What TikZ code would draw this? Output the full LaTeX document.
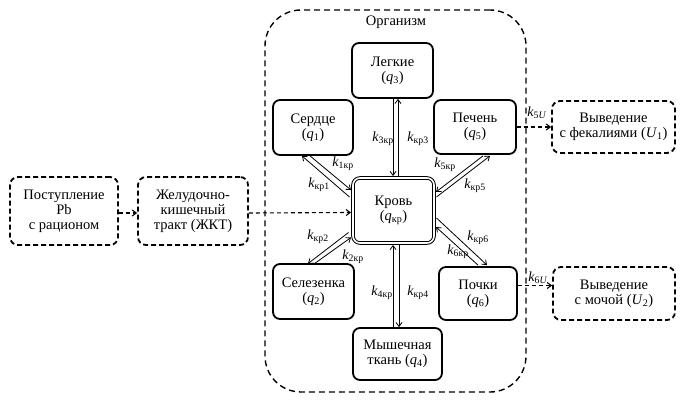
\documentclass[tikz,border=0pt]{standalone}
\usepackage{fontspec}
\setmainfont{Liberation Serif}
\usetikzlibrary{arrows.meta,calc}
\newcommand\myk[1]{\textit{k}\textsubscript{#1}}
\newcommand\myq[1]{(\textit{q}\textsubscript{#1})}
\newcommand\myu[1]{(\textit{U}\textsubscript{#1})}
\begin{document}
\begin{tikzpicture}[x=1pt,y=-1pt,
  txt/.style={font=\fontsize{14.5}{15}\selectfont, align=center},
  solidbox/.style={txt, draw, line width=1.8pt, rounded corners=7pt, inner sep=0pt},
  dashbox/.style={txt, draw, line width=1.8pt, rounded corners=8pt, inner sep=0pt, dash pattern=on 5pt off 3pt},
  orgbox/.style={draw, line width=1.4pt, rounded corners=36pt, dash pattern=on 6pt off 4pt, inner sep=0pt},
  blood/.style={txt, draw, double, double distance=1.6pt, line width=1pt, rounded corners=7pt, inner sep=0pt},
  flow/.style={line width=0.8pt, -{Straight Barb[length=4pt,width=6pt]}},
  dflow/.style={line width=1.1pt, dash pattern=on 4pt off 3pt, -{Straight Barb[length=4pt,width=6pt]}},
  klab/.style={font=\fontsize{14}{15}\selectfont, inner sep=0pt}
]
\useasboundingbox (0,0) rectangle (685,401);

% container
\node[orgbox, minimum width=261pt, minimum height=382pt] (org) at (395.5,201) {};
\node[txt, inner sep=0pt] (orglab) at (396,22) {Организм};

% compartments
\node[solidbox, minimum width=81pt, minimum height=55pt] (legkie) at (392.5,70.5) {Легкие\\\myq{3}};
\node[solidbox, minimum width=80pt, minimum height=55pt] (serdce) at (313,127.5) {Сердце\\\myq{1}};
\node[solidbox, minimum width=82pt, minimum height=54pt] (pechen) at (475,127) {Печень\\\myq{5}};
\node[blood, minimum width=81pt, minimum height=65pt] (krov) at (393.5,210.5) {Кровь\\\myq{кр}};
\node[solidbox, minimum width=81pt, minimum height=55pt] (selez) at (313.5,291.5) {Селезенка\\\myq{2}};
\node[solidbox, minimum width=78pt, minimum height=53pt] (pochki) at (478,293.5) {Почки\\\myq{6}};
\node[solidbox, minimum width=89pt, minimum height=52pt] (mysh) at (397.5,354) {Мышечная\\ткань \myq{4}};

% external
\node[dashbox, minimum width=108pt, minimum height=68pt] (postup) at (64,211) {Поступление\\Pb\\с рационом};
\node[dashbox, minimum width=110pt, minimum height=68pt] (zhkt) at (193,211) {Желудочно-\\кишечный\\тракт (ЖКТ)};
\node[dashbox, minimum width=123pt, minimum height=52pt] (feces) at (613.5,127) {Выведение\\с фекалиями \myu{1}};
\node[dashbox, minimum width=122pt, minimum height=53pt] (urine) at (614,293.5) {Выведение\\с мочой \myu{2}};

% dashed flows
\draw[dflow] ($(postup.east)+(0,2)$) -- ($(zhkt.west)+(0,2)$);
\draw[dflow] ($(zhkt.east)+(0,2)$) -- ($(krov.west)+(-1.5,2)$);
\draw[dflow] (pechen.east) -- (feces.west);
\draw[dflow] ($(pochki.east)+(0,-8)$) -- ($(urine.west)+(0,-8)$);

% lungs <-> blood
\draw[flow] ($(legkie.south)+(0.5,0)$) -- ($(krov.north)+(-0.5,-1.5)$);
\draw[flow] ($(krov.north)+(4.5,-1.5)$) -- ($(legkie.south)+(5.5,0)$);
% blood <-> muscle
\draw[flow] ($(mysh.north)+(-4.5,0)$) -- ($(krov.south)+(-0.5,1.5)$);
\draw[flow] ($(krov.south)+(5.5,1.5)$) -- ($(mysh.north)+(1.5,0)$);
% heart <-> blood
\draw[flow] ($(krov.west)+(-3,-13.5)$) -- ($(serdce.south)+(-11,0)$);
\draw[flow] ($(serdce.south)+(-3,0)$) -- ($(krov.west)+(-1.5,-20.5)$);
% spleen <-> blood
\draw[flow] ($(krov.west)+(-4,22)$) -- ($(selez.north)+(-5.5,0.5)$);
\draw[flow] ($(selez.north)+(1,0.5)$) -- ($(krov.west)+(-1.5,27)$);
% liver <-> blood
\draw[flow] ($(pechen.south)+(8,1)$) -- ($(krov.east)+(1.5,-18.5)$);
\draw[flow] ($(krov.east)+(2,-13.5)$) -- ($(pechen.south)+(15,1)$);
% kidneys <-> blood
\draw[flow] ($(krov.east)+(2,7.5)$) -- ($(pochki.north)+(9,-1)$);
\draw[flow] ($(pochki.north)+(0,-1)$) -- ($(krov.east)+(1.5,16.5)$);

% rate labels
\node[klab] (k3kp) at (383,139) {\myk{3кр}};
\node[klab] (kkp3) at (418,139) {\myk{кр3}};
\node[klab] (k1kp) at (343,164) {\myk{1кр}};
\node[klab] (kkp1) at (319,185) {\myk{кр1}};
\node[klab] (k5kp) at (445,165) {\myk{5кр}};
\node[klab] (kkp5) at (475,186) {\myk{кр5}};
\node[klab] (kkp6) at (478,238) {\myk{кр6}};
\node[klab] (k6kp) at (458,252) {\myk{6кр}};
\node[klab] (kkp2) at (318,237) {\myk{кр2}};
\node[klab] (k2kp) at (353,257) {\myk{2кр}};
\node[klab] (k4kp) at (382,293) {\myk{4кр}};
\node[klab] (kkp4) at (418,293) {\myk{кр4}};
\node[klab] (k5u) at (537,113) {\myk{5\textit{U}}};
\node[klab] (k6u) at (538,278) {\myk{6\textit{U}}};
\end{tikzpicture}
\end{document}
